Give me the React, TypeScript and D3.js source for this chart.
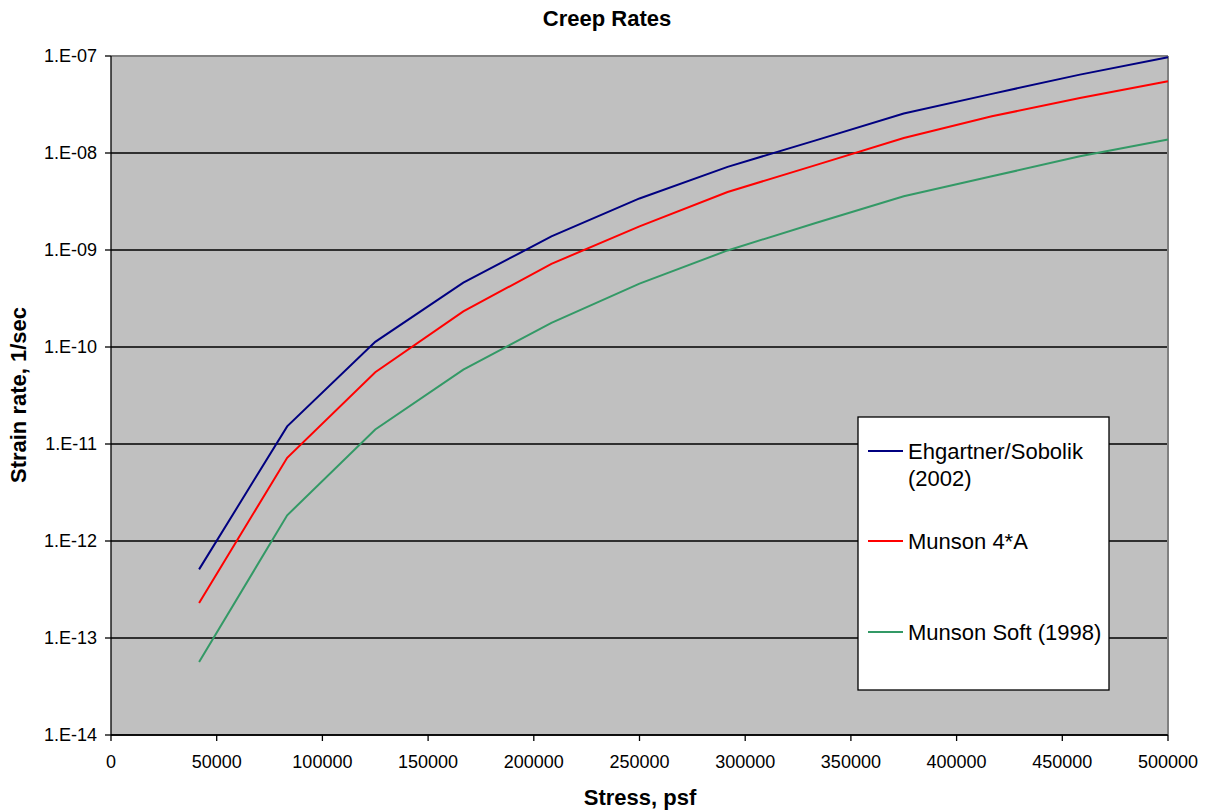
import React from "react";
import * as d3 from "d3";

const stress = [41667, 83333, 125000, 166667, 208333, 250000, 291667, 333333, 375000, 416667, 458333, 500000];
const ehgartner = [5.1e-13, 1.52e-11, 1.13e-10, 4.6e-10, 1.38e-9, 3.4e-9, 7.2e-9, 1.35e-8, 2.55e-8, 4.07e-8, 6.43e-8, 9.7e-8];
const munson4A = [2.3e-13, 7.2e-12, 5.5e-11, 2.33e-10, 7.2e-10, 1.75e-9, 3.96e-9, 7.5e-9, 1.43e-8, 2.39e-8, 3.69e-8, 5.5e-8];
const munsonSoft = [5.66e-14, 1.84e-12, 1.41e-11, 5.85e-11, 1.77e-10, 4.5e-10, 9.9e-10, 1.9e-9, 3.58e-9, 5.75e-9, 9.25e-9, 1.38e-8];
const xTicks = [0, 50000, 100000, 150000, 200000, 250000, 300000, 350000, 400000, 450000, 500000];
const yTicks = [1e-14, 1e-13, 1e-12, 1e-11, 1e-10, 1e-9, 1e-8, 1e-7];
const yTickLabels = ["1.E-14", "1.E-13", "1.E-12", "1.E-11", "1.E-10", "1.E-09", "1.E-08", "1.E-07"];
const seriesNames = [["Ehgartner/Sobolik", "(2002)"], ["Munson 4*A"], ["Munson Soft (1998)"]];
const seriesColors = ["#000080", "#FF0000", "#339966"];

export default function App() {
  const W = 1205, H = 811;
  const L = 111, R = 1168, T = 56, B = 735;
  const x = d3.scaleLinear().domain([0, 500000]).range([L, R]);
  const y = d3.scaleLog().domain([1e-14, 1e-7]).range([B, T]);
  const line = d3.line<[number, number]>().x(d => x(d[0])).y(d => y(d[1]));
  const series = [ehgartner, munson4A, munsonSoft];
  const font = "Arial, 'Liberation Sans', sans-serif";
  const legendY = [451, 541, 632];
  return (
    <svg width={W} height={H} style={{ position: "absolute", left: 0, top: 0 }} fontFamily={font}>
      <rect x={0} y={0} width={W} height={H} fill="#fff" />
      <text x={607} y={26} textAnchor="middle" fontWeight="bold" fontSize={22}>Creep Rates</text>
      <rect x={L} y={T} width={R - L} height={B - T} fill="#C0C0C0" />
      {yTicks.map((t, i) => (
        <g key={i}>
          <line x1={L} x2={R} y1={y(t)} y2={y(t)} stroke="#000" strokeWidth={1.3} />
          <line x1={L - 6} x2={L} y1={y(t)} y2={y(t)} stroke="#000" strokeWidth={1.3} />
          <text x={97} y={y(t) + 6.3} textAnchor="end" fontSize={18}>{yTickLabels[i]}</text>
        </g>
      ))}
      <line x1={L} x2={R} y1={T} y2={T} stroke="#808080" strokeWidth={2} />
      <line x1={R} x2={R} y1={T} y2={B} stroke="#808080" strokeWidth={2} />
      <line x1={L} x2={L} y1={T} y2={B} stroke="#000" strokeWidth={1.3} />
      <line x1={L} x2={R} y1={B} y2={B} stroke="#000" strokeWidth={1.3} />
      {xTicks.map((t, i) => (
        <g key={i}>
          <line x1={x(t)} x2={x(t)} y1={B} y2={B + 6} stroke="#000" strokeWidth={1.3} />
          <text x={x(t)} y={768} textAnchor="middle" fontSize={18}>{t}</text>
        </g>
      ))}
      {series.map((s, i) => (
        <path key={i} d={line(stress.map((v, j) => [v, s[j]] as [number, number])) || ""} fill="none" stroke={seriesColors[i]} strokeWidth={2} />
      ))}
      <text x={640} y={805} textAnchor="middle" fontWeight="bold" fontSize={22}>Stress, psf</text>
      <text transform="translate(26,395) rotate(-90)" textAnchor="middle" fontWeight="bold" fontSize={22}>Strain rate, 1/sec</text>
      <rect x={858} y={417} width={251} height={273} fill="#fff" stroke="#000" strokeWidth={1.3} />
      {seriesNames.map((names, i) => (
        <g key={i}>
          <line x1={868} x2={903} y1={legendY[i]} y2={legendY[i]} stroke={seriesColors[i]} strokeWidth={2} />
          {names.map((n, k) => (
            <text key={k} x={908} y={legendY[i] + 8 + k * 26.5} fontSize={22}>{n}</text>
          ))}
        </g>
      ))}
    </svg>
  );
}
